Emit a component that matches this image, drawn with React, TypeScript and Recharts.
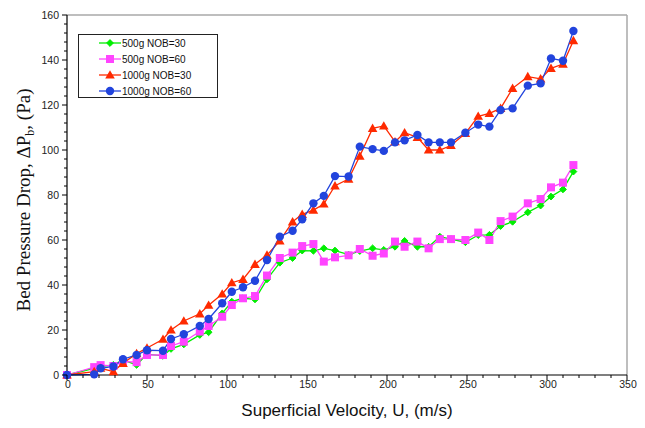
import React from 'react';
import { LineChart, Line, XAxis, YAxis, Legend, ReferenceLine } from 'recharts';

const velocity = [0, 17, 21, 29, 35, 43.5, 50, 60, 65, 73, 83, 88.5, 97, 103, 110, 117.5, 125, 133, 141, 147, 154, 160.5, 167.5, 176, 183, 191, 198, 205, 211, 219, 226, 233, 240, 249, 257, 264, 271, 278.5, 288, 296, 302.5, 310, 316.5];
const g500nob30 = [0, 3, 3.7, 4.5, 6.7, 4.5, 9.3, 8.5, 11.6, 13.6, 17.8, 19, 27.4, 32.6, 34.1, 33.6, 42.5, 49.9, 52, 55.3, 55.2, 56.3, 55.3, 53.5, 55.1, 56.3, 55.6, 57, 59.6, 57, 57, 61.5, 60.4, 59, 62.2, 62.3, 66.2, 68.1, 72.3, 75.3, 79.3, 82.5, 90.4];
const g500nob60 = [0, 3.5, 4.4, 4, 6, 5.7, 8.9, 8.9, 12.9, 14.8, 19.3, 21.8, 25.9, 31.1, 34.1, 35.1, 44.2, 52, 54.4, 57.3, 58.2, 50.4, 52.3, 53.2, 56, 53, 54, 59.3, 57, 59.3, 56.3, 60.4, 60.4, 60, 63.3, 60, 68.4, 70.4, 76.3, 78.2, 83.4, 85.5, 93.3];
const g1000nob30 = [0, 1.5, 3, 1.5, 5.2, 9.5, 12, 15.9, 20, 24, 27.2, 31, 36, 41, 42.5, 49.2, 53.3, 59.6, 68.1, 71.4, 73.3, 76, 84.1, 87.1, 97.3, 109.6, 110.7, 103.7, 107.7, 105.6, 100, 100, 102, 107.4, 115, 116.3, 118.5, 127.4, 132.6, 131.6, 136.3, 138.2, 148.6];
const g1000nob60 = [0, 0.3, 3, 3.8, 7, 8.9, 11, 10.8, 16, 18.1, 21.8, 24.9, 31.9, 37, 39, 41.9, 51.1, 61.5, 64.1, 69.2, 76.3, 79.6, 88.4, 88.2, 101.5, 100.4, 99.6, 103.4, 104.3, 106.7, 103.4, 103.4, 103.4, 107.7, 111.3, 110.4, 117.8, 118.5, 128.6, 129.6, 140.7, 139.7, 152.9];

const seriesNames = ['500g NOB=30', '500g NOB=60', '1000g NOB=30', '1000g NOB=60'];
const seriesColors = ['#00ee00', '#ff44ff', '#ff2a00', '#2244dd'];
const seriesShapes = ['diamond', 'square', 'triangle', 'circle'];

const xTicks = Array.from({ length: 36 }, (_, i) => i * 10);
const yTicks = Array.from({ length: 41 }, (_, i) => i * 4);

const data = velocity.map((u, i) => ({
  u,
  s0: g500nob30[i],
  s1: g500nob60[i],
  s2: g1000nob30[i],
  s3: g1000nob60[i],
}));

const SANS = '"Liberation Sans", Arial, sans-serif';
const SERIF = '"Liberation Serif", "Times New Roman", serif';

function Marker({ shape, cx, cy, color }: any) {
  if (cx == null || cy == null) return null;
  if (shape === 'diamond') {
    const r = 3.4;
    return <path d={`M${cx},${cy - r}L${cx + r},${cy}L${cx},${cy + r}L${cx - r},${cy}Z`} fill={color} stroke={color} strokeWidth={1} />;
  }
  if (shape === 'square') {
    const r = 4;
    return <rect x={cx - r} y={cy - r} width={2 * r} height={2 * r} fill={color} />;
  }
  if (shape === 'triangle') {
    const r = 4.8;
    return <path d={`M${cx},${cy - r}L${cx + r},${cy + r * 0.75}L${cx - r},${cy + r * 0.75}Z`} fill={color} />;
  }
  return <circle cx={cx} cy={cy} r={4.2} fill={color} />;
}

const makeDot = (idx: number) => (p: any) => (
  <Marker key={`d${idx}-${p.index}`} shape={seriesShapes[idx]} cx={p.cx} cy={p.cy} color={seriesColors[idx]} />
);

const XTick = (props: any) => {
  const { x, y, payload } = props;
  const v = payload.value;
  const major = v % 50 === 0;
  return (
    <g>
      <line x1={x} x2={x} y1={y} y2={y + (major ? 5 : 3)} stroke="#000" strokeWidth={1} />
      {major && (
        <text x={x + 1} y={y + 13} textAnchor="middle" fontSize={10.5} fontFamily={SANS} fill="#222">
          {v}
        </text>
      )}
    </g>
  );
};

const YTick = (props: any) => {
  const { x, y, payload } = props;
  const v = payload.value;
  const major = v % 20 === 0;
  return (
    <g>
      <line x1={x} x2={x - (major ? 5 : 3)} y1={y} y2={y} stroke="#000" strokeWidth={1} />
      {major && (
        <text x={x - 8} y={y + 4} textAnchor="end" fontSize={10.5} fontFamily={SANS} fill="#222">
          {v}
        </text>
      )}
    </g>
  );
};

const LegendBox = () => (
  <div style={{ width: 140, height: 64, border: '1px solid #222', background: '#fff', boxSizing: 'border-box' }}>
    <svg width={138} height={62}>
      {seriesNames.map((name, i) => {
        const cy = 8 + i * 16;
        return (
          <g key={name}>
            <line x1={20} x2={42} y1={cy} y2={cy} stroke={seriesColors[i]} strokeWidth={1.3} />
            <Marker shape={seriesShapes[i]} cx={31} cy={cy} color={seriesColors[i]} />
            <text x={43} y={cy + 3.5} fontSize={10} fontFamily={SANS} fill="#111">
              {name}
            </text>
          </g>
        );
      })}
    </svg>
  </div>
);

const YLabel = () => (
  <text transform="translate(30,200) rotate(-90)" textAnchor="middle" fontSize={19} fontFamily={SERIF} fill="#111">
    Bed Pressure Drop, ΔP
    <tspan fontSize={12} dy={4}>b</tspan>
    <tspan dy={-4}>, (Pa)</tspan>
  </text>
);

const XLabel = () => (
  <text x={347} y={416} textAnchor="middle" fontSize={17} fontFamily={SANS} fill="#111">
    Superficial Velocity, U, (m/s)
  </text>
);

export default function App() {
  return (
    <div style={{ position: 'absolute', left: 0, top: 0, width: 645, height: 428, background: '#fff' }}>
      <LineChart width={645} height={428} data={data} margin={{ top: 15, right: 18, left: 0, bottom: 0 }}>
        <ReferenceLine y={160} stroke="#a8a8a8" strokeWidth={1.5} ifOverflow="extendDomain" />
        <ReferenceLine x={350} stroke="#a8a8a8" strokeWidth={1.5} ifOverflow="extendDomain" />
        <XAxis
          dataKey="u"
          type="number"
          domain={[0, 350]}
          ticks={xTicks}
          interval={0}
          tick={<XTick />}
          tickLine={false}
          tickSize={0}
          tickMargin={0}
          height={53}
          stroke="#000"
          axisLine={{ stroke: '#000', strokeWidth: 1.2 }}
          label={{ content: () => <XLabel /> }}
          allowDecimals
        />
        <YAxis
          type="number"
          domain={[0, 160]}
          ticks={yTicks}
          interval={0}
          tick={<YTick />}
          tickLine={false}
          tickSize={0}
          tickMargin={0}
          width={67}
          axisLine={{ stroke: '#000', strokeWidth: 1.2 }}
          label={{ content: () => <YLabel /> }}
        />
        <Legend
          layout="vertical"
          align="center"
          verticalAlign="middle"
          wrapperStyle={{ left: 78, top: 34, width: 140, height: 64 }}
          content={() => <LegendBox />}
        />
        {['s0', 's1', 's2', 's3'].map((k, i) => (
          <Line
            key={k}
            dataKey={k}
            name={seriesNames[i]}
            stroke={seriesColors[i]}
            strokeWidth={1.3}
            dot={makeDot(i)}
            activeDot={false}
            isAnimationActive={false}
          />
        ))}
      </LineChart>
    </div>
  );
}
